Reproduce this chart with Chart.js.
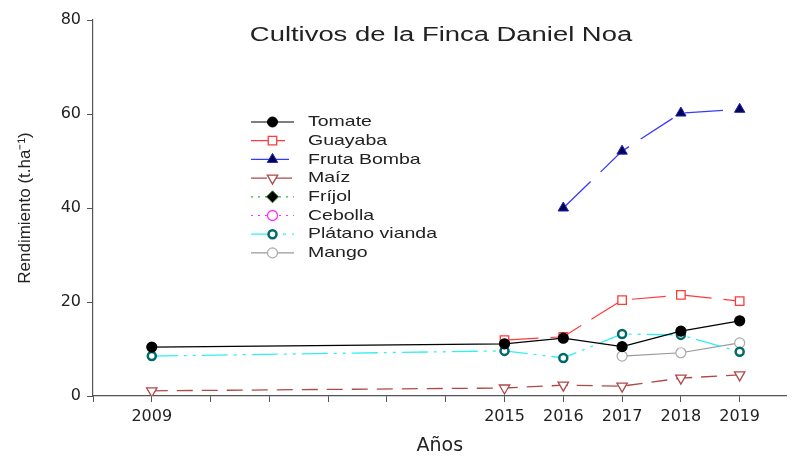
<!DOCTYPE html>
<html>
<head>
<meta charset="utf-8">
<script src="https://cdn.jsdelivr.net/npm/chart.js@4/dist/chart.umd.min.js"></script>
<style>
  html, body { margin: 0; padding: 0; background: #fff; }
  #wrap { width: 794px; height: 461px; position: relative; }
</style>
</head>
<body>
<div id="wrap"><canvas id="myChart"></canvas></div>
<script>
// years shown on the axis and the values
const labelYears = [2009, 2015, 2016, 2017, 2018, 2019];
const yTicks = [0, 20, 40, 60, 80];

const tomate = [[2009, 10.4], [2015, 11.1], [2016, 12.3], [2017, 10.5], [2018, 13.8], [2019, 16.0]];
const guayaba = [[2015, 11.9], [2016, 12.6], [2017, 20.4], [2018, 21.5], [2019, 20.2]];
const frutaBomba = [[2016, 40.0], [2017, 52.1], [2018, 60.2], [2019, 61.0]];
const maiz = [[2009, 1.1], [2015, 1.7], [2016, 2.3], [2017, 2.1], [2018, 3.8], [2019, 4.5]];
const frijol = [];
const cebolla = [];
const platano = [[2009, 8.5], [2015, 9.6], [2016, 8.1], [2017, 13.2], [2018, 13.0], [2019, 9.4]];
const mango = [[2017, 8.5], [2018, 9.2], [2019, 11.3]];

const FONT = 'Liberation Sans, Arial, sans-serif';
const WIDE = 'DejaVu Sans, sans-serif';

function pts(arr) {
    return arr.map(p => ({x: p[0], y: p[1]}));
}

const datasets = [
    {label: 'Tomate', data: pts(tomate), borderColor: '#000', borderWidth: 1.2,
     pointStyle: 'circle', pointRadius: 5, pointBackgroundColor: '#000', pointBorderColor: '#000'},
    {label: 'Guayaba', data: pts(guayaba), borderColor: '#ff3b3b', borderWidth: 1.2, borderDash: [34, 12],
     pointStyle: 'rect', pointRadius: 6, pointBackgroundColor: '#fff', pointBorderColor: '#ff3b3b', pointBorderWidth: 1.3},
    {label: 'Fruta Bomba', data: pts(frutaBomba), borderColor: '#3a3aff', borderWidth: 1.3, borderDash: [38, 14],
     pointStyle: 'triangle', pointRadius: 6, pointBackgroundColor: '#000050', pointBorderColor: '#2020c0', pointBorderWidth: 1},
    {label: 'Maíz', data: pts(maiz), borderColor: '#b04848', borderWidth: 1.3, borderDash: [16, 9],
     pointStyle: 'triangle', rotation: 180, pointRadius: 6, pointBackgroundColor: '#fff', pointBorderColor: '#b04848', pointBorderWidth: 1.3},
    {label: 'Fríjol', data: pts(frijol), borderColor: '#40b040', borderWidth: 1.2, borderDash: [2, 5],
     pointStyle: 'rectRot', pointRadius: 6, pointBackgroundColor: '#000', pointBorderColor: '#2a8a2a', pointBorderWidth: 1},
    {label: 'Cebolla', data: pts(cebolla), borderColor: '#ff30ff', borderWidth: 1.2, borderDash: [2, 5],
     pointStyle: 'circle', pointRadius: 5, pointBackgroundColor: '#fff', pointBorderColor: '#ff30ff', pointBorderWidth: 1.3},
    {label: 'Plátano vianda', data: pts(platano), borderColor: '#33f0f0', borderWidth: 1.3, borderDash: [26, 6, 3, 6, 3, 6],
     pointStyle: 'circle', pointRadius: 4, pointBackgroundColor: '#fff', pointBorderColor: '#006a6a', pointBorderWidth: 2.5},
    {label: 'Mango', data: pts(mango), borderColor: '#999', borderWidth: 1.2,
     pointStyle: 'circle', pointRadius: 5, pointBackgroundColor: '#fff', pointBorderColor: '#aaa', pointBorderWidth: 1.2}
];

// stretched text, the original picture is wider than tall
function wideText(ctx, text, x, y, sx, align) {
    ctx.save();
    ctx.translate(x, y);
    ctx.scale(sx, 1);
    ctx.textAlign = align;
    ctx.fillText(text, 0, 0);
    ctx.restore();
}

// title + legend drawn inside the plot, like the original
const insidePlugin = {
    id: 'inside',
    afterDraw(chart) {
        const ctx = chart.ctx;
        ctx.save();
        ctx.fillStyle = '#222';
        ctx.font = '20px ' + FONT;
        ctx.textBaseline = 'middle';
        wideText(ctx, 'Cultivos de la Finca Daniel Noa', 441, 35, 1.37, 'center');

        const x0 = 251, x1 = 294, tx = 308;
        let y = 122;
        chart.data.datasets.forEach(ds => {
            ctx.strokeStyle = ds.borderColor;
            ctx.lineWidth = ds.borderWidth;
            ctx.setLineDash(ds.borderDash || []);
            ctx.beginPath();
            ctx.moveTo(x0, y);
            ctx.lineTo(x1, y);
            ctx.stroke();
            ctx.setLineDash([]);
            ctx.fillStyle = ds.pointBackgroundColor;
            ctx.strokeStyle = ds.pointBorderColor;
            ctx.lineWidth = ds.pointBorderWidth || 1;
            Chart.helpers.drawPoint(ctx, {
                pointStyle: ds.pointStyle, radius: ds.pointRadius,
                rotation: ds.rotation || 0, borderWidth: ds.pointBorderWidth || 1
            }, (x0 + x1) / 2, y);
            ctx.fillStyle = '#222';
            ctx.font = '15px ' + FONT;
            wideText(ctx, ds.label, tx, y, 1.3, 'left');
            y += 18.7;
        });
        ctx.restore();
    }
};

const config = {
    type: 'line',
    data: {datasets: datasets},
    options: {
        responsive: true,
        maintainAspectRatio: false,
        animation: false,
        layout: {padding: {top: 20, right: 4, left: 0, bottom: 0}},
        plugins: {legend: {display: false}, title: {display: false}, tooltip: {enabled: false}},
        elements: {line: {tension: 0, fill: false}},
        scales: {
            x: {
                type: 'linear',
                min: 2008,
                max: 2019.8,
                afterBuildTicks: scale => {
                    const t = [];
                    for (let yr = 2008; yr <= 2019; yr++) t.push({value: yr});
                    scale.ticks = t;
                },
                afterFit: scale => { scale.height = 65; },
                grid: {drawOnChartArea: false, drawTicks: true, tickLength: 6, color: '#555', tickColor: '#555'},
                border: {display: true, color: '#555', width: 1.2},
                ticks: {
                    autoSkip: false, maxRotation: 0, padding: 5,
                    color: '#222', font: {family: WIDE, size: 16},
                    callback: v => labelYears.includes(v) ? String(v) : ''
                },
                title: {display: true, text: 'Años', color: '#222', font: {family: WIDE, size: 19}, padding: {top: 17}}
            },
            y: {
                type: 'linear',
                min: 0,
                max: 80,
                afterBuildTicks: scale => { scale.ticks = yTicks.map(v => ({value: v})); },
                afterFit: scale => { scale.width = 93; },
                grid: {drawOnChartArea: false, drawTicks: true, tickLength: 6, color: '#555', tickColor: '#555'},
                border: {display: true, color: '#555', width: 1.2},
                ticks: {color: '#222', font: {family: WIDE, size: 16}, padding: 6},
                title: {display: true, text: 'Rendimiento (t.ha⁻¹)', color: '#222', font: {family: FONT, size: 17}, padding: {top: 15, bottom: 8}}
            }
        }
    },
    plugins: [insidePlugin]
};

new Chart(document.getElementById('myChart').getContext('2d'), config);
</script>
</body>
</html>
